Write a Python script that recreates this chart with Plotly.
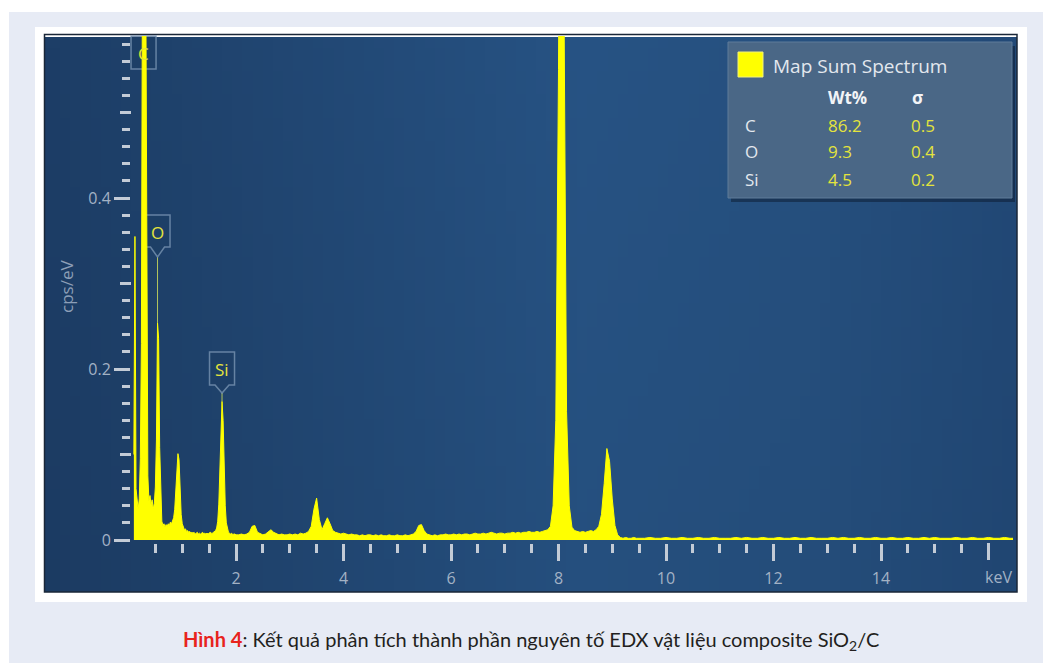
import base64
import struct
import zlib

import numpy as np
import plotly.graph_objects as go

# ---------------------------------------------------------------------------
# EDX spectrum (cps/eV) in three channel blocks: start energy, channel step
# ---------------------------------------------------------------------------
LOW_START, LOW_STEP = 0.10, 0.02
LOW_CPS = [
    0.100, 0.355, 0.060, 0.042, 0.036, 0.048, 0.095, 0.230, 0.720, 1.150,  # 0.10
    0.980, 0.620, 0.205, 0.075, 0.046, 0.052, 0.041, 0.047, 0.036, 0.043,  # 0.30
    0.062, 0.117, 0.254, 0.236, 0.108, 0.042, 0.022, 0.017, 0.019, 0.015,  # 0.50
    0.018, 0.016, 0.019, 0.017, 0.021, 0.019, 0.023, 0.026, 0.036, 0.056,  # 0.70
    0.082, 0.101, 0.094, 0.058, 0.030, 0.019, 0.014, 0.012, 0.013, 0.010,  # 0.90
    0.011, 0.009, 0.010, 0.008, 0.009, 0.008, 0.009, 0.007, 0.008, 0.009,  # 1.10
    0.007, 0.008, 0.007, 0.008, 0.009, 0.007, 0.008, 0.007, 0.008, 0.007,  # 1.30
    0.008, 0.009, 0.008, 0.008, 0.009, 0.010, 0.011, 0.014, 0.022, 0.042,  # 1.50
    0.085, 0.125, 0.162, 0.140, 0.082, 0.040, 0.020, 0.012, 0.009, 0.008,  # 1.70
    0.007, 0.008, 0.006, 0.007, 0.007, 0.006,                              # 1.90
]

MID_START, MID_STEP = 2.05, 0.05
MID_CPS = [
    0.006, 0.007, 0.006, 0.007, 0.009, 0.016, 0.017, 0.009, 0.007, 0.006,  # 2.05
    0.007, 0.010, 0.012, 0.009, 0.007, 0.006, 0.007, 0.006, 0.006, 0.007,  # 2.55
    0.006, 0.007, 0.006, 0.008, 0.007, 0.008, 0.010, 0.016, 0.036, 0.049,  # 3.05
    0.024, 0.012, 0.019, 0.026, 0.019, 0.011, 0.009, 0.008, 0.007, 0.008,  # 3.55
    0.007, 0.006, 0.007, 0.006, 0.006, 0.005, 0.006, 0.005, 0.006, 0.006,  # 4.05
    0.005, 0.006, 0.005, 0.006, 0.005, 0.005, 0.006, 0.005, 0.005, 0.006,  # 4.55
    0.005, 0.005, 0.006, 0.005, 0.006, 0.007, 0.010, 0.017, 0.018, 0.011,  # 5.05
    0.007, 0.006, 0.005, 0.006, 0.005, 0.006, 0.006, 0.007, 0.006, 0.006,  # 5.55
    0.007, 0.006, 0.007, 0.006, 0.007, 0.007, 0.006, 0.007, 0.008, 0.007,  # 6.05
    0.007, 0.008, 0.007, 0.008, 0.009, 0.008, 0.007, 0.008, 0.008, 0.007,  # 6.55
    0.008, 0.008, 0.009, 0.008, 0.009, 0.008, 0.009, 0.009, 0.010, 0.009,  # 7.05
    0.009, 0.010, 0.009, 0.010, 0.011, 0.012, 0.016, 0.040, 0.140, 0.550,  # 7.55
    1.150, 0.600, 0.150, 0.040, 0.015, 0.011, 0.010, 0.009, 0.010, 0.009,  # 8.05
    0.010, 0.011, 0.010, 0.012, 0.016, 0.030, 0.066, 0.107, 0.092, 0.048,  # 8.55
    0.017, 0.006, 0.003, 0.002, 0.003, 0.002, 0.002, 0.003, 0.002, 0.002,  # 9.05
]

HIGH_START, HIGH_STEP = 9.60, 0.10
HIGH_CPS = [
    0.002, 0.003, 0.002, 0.002, 0.003, 0.002, 0.002, 0.003, 0.002, 0.002,  # 9.6
    0.003, 0.002, 0.002, 0.003, 0.002, 0.002, 0.002, 0.003, 0.002, 0.003,  # 10.6
    0.002, 0.002, 0.003, 0.002, 0.002, 0.003, 0.002, 0.002, 0.003, 0.002,  # 11.6
    0.002, 0.003, 0.002, 0.002, 0.002, 0.003, 0.002, 0.003, 0.002, 0.002,  # 12.6
    0.003, 0.002, 0.002, 0.003, 0.002, 0.002, 0.003, 0.002, 0.002, 0.003,  # 13.6
    0.002, 0.002, 0.003, 0.002, 0.003, 0.002, 0.002, 0.002, 0.003, 0.002,  # 14.6
    0.002, 0.003, 0.002, 0.002, 0.003, 0.002, 0.002, 0.003, 0.002, 0.002,  # 15.6
]

# Quantification table
ELEMENTS = ["C", "O", "Si"]
ELEMENT_KEV = [0.28, 0.54, 1.74]
WT_PCT = ["86.2", "9.3", "4.5"]
SIGMA = ["0.5", "0.4", "0.2"]

X_TICKS = [2, 4, 6, 8, 10, 12, 14]
X_TICK_TEXT = ["2", "4", "6", "8", "10", "12", "14"]
X_UNLABELLED_MAJOR = [16]
Y_TICKS = [0, 0.2, 0.4]
Y_TICK_TEXT = ["0", "0.2", "0.4"]
Y_MID_TICKS = [0.1, 0.3, 0.5]


def channels(start, step, values):
    return np.round(start + step * np.arange(len(values)), 3)


energy = np.concatenate([
    channels(LOW_START, LOW_STEP, LOW_CPS),
    channels(MID_START, MID_STEP, MID_CPS),
    channels(HIGH_START, HIGH_STEP, HIGH_CPS),
])
cps = np.array(LOW_CPS + MID_CPS + HIGH_CPS)

# ---------------------------------------------------------------------------
# Page geometry (pixels)
# ---------------------------------------------------------------------------
W, H = 1043, 663
PL, PR, PT, PB = 131, 1013, 36, 543          # plot area
PX_PER_KEV = 53.75
PX_PER_CPS = 855.0
X0 = 2 - (236 - PL) / PX_PER_KEV
X1 = X0 + (PR - PL) / PX_PER_KEV
Y0 = -(PB - 540) / PX_PER_CPS
Y1 = (540 - PT) / PX_PER_CPS


def px(x):
    return (x - PL) / (PR - PL)


def py(y):
    return (PB - y) / (PB - PT)


def kev_to_px(e):
    return PL + (e - X0) * PX_PER_KEV


def cps_to_py(v):
    return PB - (v - Y0) * PX_PER_CPS


def gradient_png(w, h, stops):
    """Small horizontal gradient PNG, stretched behind the spectrum panel."""
    rows = []
    for j in range(h):
        row = bytearray([0])
        shade = 1.0 - 0.04 * (j / (h - 1))
        for i in range(w):
            t = i / (w - 1)
            for k in range(len(stops) - 1):
                t0, c0 = stops[k]
                t1, c1 = stops[k + 1]
                if t0 <= t <= t1:
                    f = (t - t0) / (t1 - t0)
                    c = [int((a + (b - a) * f) * shade) for a, b in zip(c0, c1)]
                    break
            row += bytes(c)
        rows.append(bytes(row))
    raw = b"".join(rows)

    def chunk(tag, data):
        return (struct.pack(">I", len(data)) + tag + data
                + struct.pack(">I", zlib.crc32(tag + data) & 0xFFFFFFFF))

    png = (b"\x89PNG\r\n\x1a\n"
           + chunk(b"IHDR", struct.pack(">IIBBBBB", w, h, 8, 2, 0, 0, 0))
           + chunk(b"IDAT", zlib.compress(raw))
           + chunk(b"IEND", b""))
    return "data:image/png;base64," + base64.b64encode(png).decode()


panel_bg = gradient_png(96, 24, [
    (0.00, (29, 62, 103)),
    (0.12, (31, 66, 108)),
    (0.55, (39, 83, 132)),
    (0.80, (38, 80, 127)),
    (1.00, (34, 73, 119)),
])

TICK = "#c3cbd6"
LABEL = "#a3b2c5"
YELLOW = "#ffff00"
TEXT_YEL = "#e4e43c"
FONT = "Open Sans"

fig = go.Figure()
fig.add_trace(go.Scatter(
    x=energy, y=cps, mode="lines", name="Map Sum Spectrum",
    line=dict(color=YELLOW, width=1), fill="tozeroy", fillcolor=YELLOW,
    showlegend=False, hoverinfo="skip",
))

shapes = [
    # white mat around the panel
    dict(type="rect", xref="paper", yref="paper",
         x0=px(40), x1=px(1022), y0=py(32), y1=py(597),
         line=dict(color="#ffffff", width=10), fillcolor="rgba(0,0,0,0)",
         layer="below"),
    # white page strip top / left
    dict(type="rect", xref="paper", yref="paper",
         x0=px(0), x1=px(W), y0=py(0), y1=py(12),
         line=dict(width=0), fillcolor="#ffffff", layer="below"),
    dict(type="rect", xref="paper", yref="paper",
         x0=px(0), x1=px(9), y0=py(0), y1=py(H),
         line=dict(width=0), fillcolor="#ffffff", layer="below"),
    # panel border
    dict(type="rect", xref="paper", yref="paper",
         x0=px(44.5), x1=px(1017), y0=py(34.5), y1=py(592),
         line=dict(color="#1a2738", width=1.5), fillcolor="rgba(0,0,0,0)",
         layer="below"),
    # table box shadow + box
    dict(type="rect", xref="paper", yref="paper",
         x0=px(731), x1=px(1015), y0=py(46), y1=py(202),
         line=dict(width=0), fillcolor="rgba(8,20,38,0.45)", layer="below"),
    dict(type="rect", xref="paper", yref="paper",
         x0=px(728), x1=px(1012), y0=py(42), y1=py(198),
         line=dict(color="#5f7c9a", width=1), fillcolor="#4a6786",
         layer="below"),
    # legend swatch
    dict(type="rect", xref="paper", yref="paper",
         x0=px(738), x1=px(763), y0=py(52), y1=py(77),
         line=dict(color="#f2f27a", width=1), fillcolor=YELLOW, layer="below"),
]

# medium-length ticks at the odd tenths of the cps/eV scale
for v in Y_MID_TICKS:
    yy = py(cps_to_py(v))
    shapes.append(dict(type="line", xref="paper", yref="paper",
                       x0=px(PL - 11), x1=px(PL), y0=yy, y1=yy,
                       line=dict(color=TICK, width=3), layer="above"))
# long tick at the end of the energy scale (its place is taken by "keV")
for v in X_UNLABELLED_MAJOR:
    xx = px(kev_to_px(v))
    shapes.append(dict(type="line", xref="paper", yref="paper",
                       x0=xx, x1=xx, y0=py(PB), y1=py(PB + 17),
                       line=dict(color=TICK, width=3), layer="above"))

annotations = []

# Peak markers: box (with pointer) + connector to the peak top
LABEL_BOX = {
    "C": dict(top=36, bottom=69, tip=None),
    "O": dict(top=215, bottom=247, tip=257),
    "Si": dict(top=352, bottom=385, tip=393),
}
for el, e in zip(ELEMENTS, ELEMENT_KEV):
    i = int(np.argmin(np.abs(energy - e)))
    peak_val = float(cps[i])
    cx = kev_to_px(float(energy[i]))
    box = LABEL_BOX[el]
    half = 12.5
    l, r, t, b = cx - half, cx + half, box["top"], box["bottom"]
    if box["tip"] is None:
        path = f"M{px(l)},{py(t)} L{px(r)},{py(t)} L{px(r)},{py(b)} L{px(l)},{py(b)} Z"
    else:
        tip = box["tip"]
        path = (f"M{px(l)},{py(t)} L{px(r)},{py(t)} L{px(r)},{py(b)} "
                f"L{px(cx + 7)},{py(b)} L{px(cx)},{py(tip)} L{px(cx - 7)},{py(b)} "
                f"L{px(l)},{py(b)} Z")
        shapes.append(dict(
            type="line", xref="paper", yref="paper",
            x0=px(cx), x1=px(cx), y0=py(tip), y1=py(max(cps_to_py(peak_val), tip)),
            line=dict(color="rgba(205,220,90,0.85)", width=1), layer="below"))
    shapes.append(dict(type="path", xref="paper", yref="paper", path=path,
                       line=dict(color="rgba(120,148,178,0.8)", width=1.5),
                       fillcolor="rgba(30,62,100,0.55)", layer="below"))
    annotations.append(dict(
        xref="paper", yref="paper", x=px(cx), y=py((t + b) / 2 + 1),
        text=el, showarrow=False, xanchor="center", yanchor="middle",
        font=dict(family=FONT, size=17, color=TEXT_YEL)))

# Quantification table text
annotations.append(dict(
    xref="paper", yref="paper", x=px(771), y=py(66), text="Map Sum Spectrum",
    showarrow=False, xanchor="left", yanchor="middle",
    font=dict(family=FONT, size=19, color="#e3e8ee")))
annotations.append(dict(
    xref="paper", yref="paper", x=px(826), y=py(98), text="<b>Wt%</b>",
    showarrow=False, xanchor="left", yanchor="middle",
    font=dict(family=FONT, size=17, color="#f2f4f7")))
annotations.append(dict(
    xref="paper", yref="paper", x=px(910), y=py(98), text="<b>σ</b>",
    showarrow=False, xanchor="left", yanchor="middle",
    font=dict(family=FONT, size=17, color="#f2f4f7")))
for k, (el, wt, sg) in enumerate(zip(ELEMENTS, WT_PCT, SIGMA)):
    yy = 125 + 27 * k
    annotations.append(dict(
        xref="paper", yref="paper", x=px(743), y=py(yy), text=el,
        showarrow=False, xanchor="left", yanchor="middle",
        font=dict(family=FONT, size=17, color="#e3e8ee")))
    annotations.append(dict(
        xref="paper", yref="paper", x=px(826), y=py(yy), text=wt,
        showarrow=False, xanchor="left", yanchor="middle",
        font=dict(family=FONT, size=17, color=TEXT_YEL)))
    annotations.append(dict(
        xref="paper", yref="paper", x=px(909), y=py(yy), text=sg,
        showarrow=False, xanchor="left", yanchor="middle",
        font=dict(family=FONT, size=17, color=TEXT_YEL)))

# Axis captions
annotations.append(dict(
    xref="paper", yref="paper", x=px(66), y=py(287), text="cps/eV",
    textangle=-90, showarrow=False, xanchor="center", yanchor="middle",
    font=dict(family=FONT, size=17, color="#8c9fb7")))
annotations.append(dict(
    xref="paper", yref="paper", x=px(1014), y=py(577), text="keV",
    showarrow=False, xanchor="right", yanchor="middle",
    font=dict(family=FONT, size=16, color=LABEL)))

# Figure caption
annotations.append(dict(
    xref="paper", yref="paper", x=px(531), y=py(640),
    text=("<span style='color:#e8231d'><b>Hình 4</b></span>: Kết quả phân tích "
          "thành phần nguyên tố EDX vật liệu composite SiO<sub>2</sub>/C"),
    showarrow=False, xanchor="center", yanchor="middle",
    font=dict(family="Lato", size=20, color="#231f20")))

fig.update_layout(
    width=W, height=H,
    margin=dict(l=PL, r=W - PR, t=PT, b=H - PB, pad=0),
    paper_bgcolor="#e7ebf5",
    plot_bgcolor="rgba(0,0,0,0)",
    showlegend=False,
    images=[dict(source=panel_bg, xref="paper", yref="paper",
                 x=px(45), y=py(35), sizex=px(1017) - px(45),
                 sizey=py(35) - py(592), sizing="stretch",
                 xanchor="left", yanchor="top", layer="below")],
    shapes=shapes,
    annotations=annotations,
    xaxis=dict(
        range=[X0, X1], showgrid=False, zeroline=False, showline=False,
        tickmode="array", tickvals=X_TICKS, ticktext=X_TICK_TEXT,
        ticks="outside", ticklen=17, tickwidth=3, tickcolor=TICK,
        ticklabelstandoff=4,
        tickfont=dict(family=FONT, size=16, color=LABEL),
        minor=dict(tickmode="linear", tick0=0, dtick=0.5, ticks="outside",
                   ticklen=9, tickwidth=3, tickcolor=TICK),
        fixedrange=True,
    ),
    yaxis=dict(
        range=[Y0, Y1], showgrid=False, zeroline=False, showline=False,
        tickmode="array", tickvals=Y_TICKS, ticktext=Y_TICK_TEXT,
        ticks="outside", ticklen=16, tickwidth=3, tickcolor=TICK,
        tickfont=dict(family=FONT, size=16, color=LABEL),
        minor=dict(tickmode="linear", tick0=0, dtick=0.02, ticks="outside",
                   ticklen=8, tickwidth=3, tickcolor=TICK),
        fixedrange=True,
    ),
)

fig.write_html("out.html")
